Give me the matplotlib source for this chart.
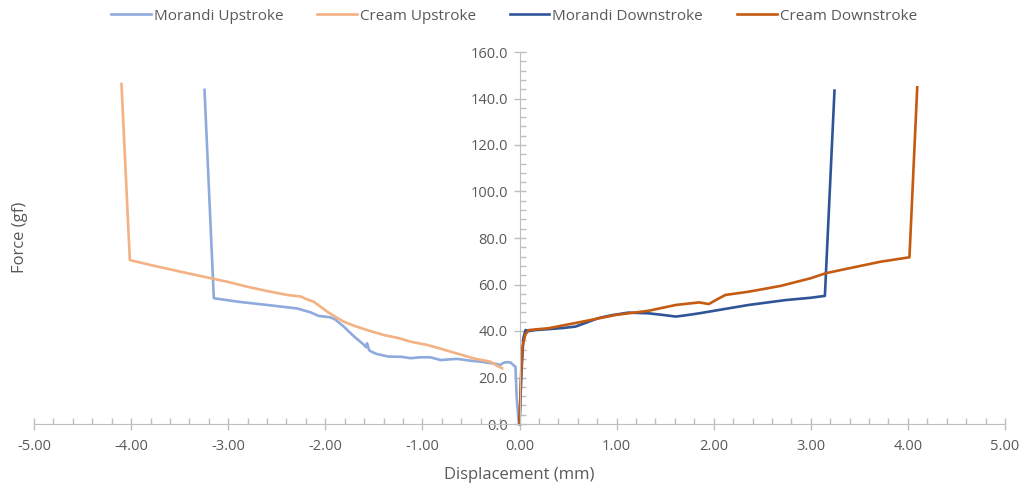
import numpy as np
import matplotlib
matplotlib.use("Agg")
import matplotlib.pyplot as plt
from matplotlib.ticker import MultipleLocator, FormatStrFormatter

plt.rcParams['font.family'] = ['Open Sans', 'DejaVu Sans']

# Morandi upstroke (from 0 going left)
mor_up_x = [-0.007, -0.03, -0.041, -0.06, -0.09, -0.12, -0.16, -0.20, -0.23, -0.30, -0.40,
            -0.50, -0.64, -0.72, -0.81, -0.92, -1.02, -1.12, -1.22, -1.35, -1.47, -1.52,
            -1.55, -1.57, -1.58, -1.60, -1.70, -1.81, -1.90, -1.95, -2.07, -2.15, -2.29,
            -2.60, -2.90, -3.148, -3.244]
mor_up_y = [0.3, 12.0, 24.6, 25.2, 26.4, 26.6, 26.4, 25.4, 25.8, 26.2, 26.8,
            27.2, 28.0, 27.8, 27.5, 28.7, 28.7, 28.3, 28.9, 29.0, 30.1, 31.0,
            31.8, 34.7, 33.0, 34.0, 37.5, 41.9, 45.0, 45.9, 46.5, 48.0, 49.7,
            51.2, 52.6, 54.1, 143.7]

# Cream upstroke
cream_up_x = [-0.18, -0.25, -0.30, -0.40, -0.47, -0.60, -0.71, -0.83, -0.95, -1.12, -1.25,
              -1.40, -1.57, -1.70, -1.81, -1.90, -1.98, -2.05, -2.12, -2.20, -2.25, -2.39,
              -2.60, -2.80, -3.01, -3.18, -3.50, -3.80, -4.013, -4.099]
cream_up_y = [24.0, 25.5, 26.8, 27.6, 28.2, 29.8, 31.1, 32.6, 34.0, 35.4, 37.0,
              38.3, 40.4, 42.2, 44.0, 46.2, 48.3, 50.5, 52.6, 53.8, 54.8, 55.5,
              57.2, 59.0, 61.2, 62.7, 65.6, 68.4, 70.5, 146.2]

# Morandi downstroke
mor_down_x = [0.0, 0.02, 0.04, 0.062, 0.10, 0.165, 0.30, 0.45, 0.577, 0.70, 0.81, 0.95,
              1.12, 1.33, 1.50, 1.61, 1.72, 1.85, 2.09, 2.36, 2.74, 3.00, 3.145, 3.244]
mor_down_y = [0.0, 22.0, 37.0, 40.4, 40.0, 40.4, 40.8, 41.3, 41.9, 43.8, 45.5, 46.8,
              47.9, 47.6, 46.8, 46.2, 46.8, 47.6, 49.3, 51.2, 53.3, 54.3, 55.1, 143.4]

# Cream downstroke
cream_down_x = [0.0, 0.015, 0.03, 0.06, 0.097, 0.30, 0.645, 0.99, 1.33, 1.61, 1.85, 1.95,
                2.03, 2.12, 2.36, 2.69, 3.00, 3.15, 3.306, 3.718, 4.016, 4.096]
cream_down_y = [0.0, 20.0, 33.0, 38.5, 40.4, 41.2, 44.0, 46.9, 48.7, 51.2, 52.3, 51.6,
                53.5, 55.5, 56.9, 59.4, 62.7, 64.8, 66.2, 69.8, 71.7, 144.8]

series = [
    ("Morandi Upstroke", mor_up_x, mor_up_y, "#8FAADC"),
    ("Cream Upstroke", cream_up_x, cream_up_y, "#F4B183"),
    ("Morandi Downstroke", mor_down_x, mor_down_y, "#2F5597"),
    ("Cream Downstroke", cream_down_x, cream_down_y, "#C55A11"),
]

W, H = 1023, 491
fig = plt.figure(figsize=(W / 100, H / 100), dpi=100)
ax = fig.add_axes([34 / W, 1 - 424 / H, (1005 - 34) / W, (424 - 52) / H])

for name, xs, ys, col in series:
    ax.plot(xs, ys, color=col, lw=1.9, label=name, solid_joinstyle='round', clip_on=False)

ax.set_xlim(-5, 5)
ax.set_ylim(0, 160)

axis_col = "#BFBFBF"
text_col = "#595959"
for s in ["top", "right"]:
    ax.spines[s].set_visible(False)
ax.spines["left"].set_position(("data", 0))
ax.spines["left"].set_color(axis_col)
ax.spines["bottom"].set_color(axis_col)

ax.xaxis.set_major_locator(MultipleLocator(1))
ax.xaxis.set_minor_locator(MultipleLocator(0.2))
ax.yaxis.set_major_locator(MultipleLocator(20))
ax.yaxis.set_minor_locator(MultipleLocator(4))
ax.xaxis.set_major_formatter(FormatStrFormatter("%.2f"))
ax.yaxis.set_major_formatter(FormatStrFormatter("%.1f"))

ax.tick_params(which="major", direction="inout", length=9, width=1, color=axis_col,
               labelsize=10.5, labelcolor=text_col)
ax.tick_params(which="minor", direction="in", length=4, width=1, color=axis_col)
ax.tick_params(axis="x", which="major", pad=6)
ax.tick_params(axis="y", which="major", pad=4)

fig.text(519 / W, 1 - 475 / H, "Displacement (mm)", ha="center", va="center",
         fontsize=12, color=text_col)
fig.text(20 / W, 1 - 237 / H, "Force (gf)", ha="center", va="center",
         rotation=90, fontsize=12, color=text_col)

fig.legend(loc="center", bbox_to_anchor=(514 / W, 1 - 16 / H), ncol=4, frameon=False,
           fontsize=11, labelcolor=text_col, handlelength=2.6, handletextpad=0.2,
           columnspacing=2.2)

fig.savefig("out.png", dpi=100)
